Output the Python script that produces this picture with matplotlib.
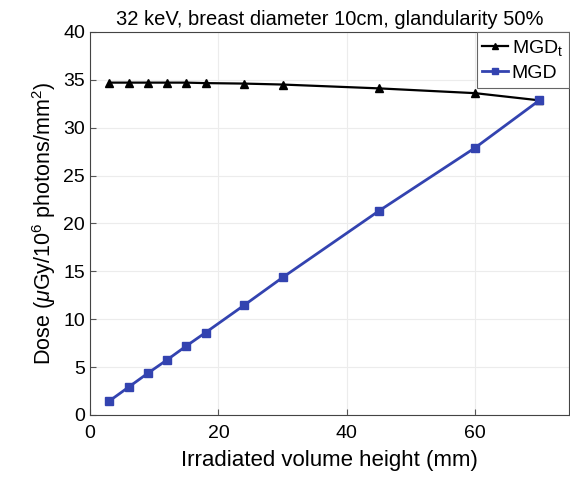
import numpy as np
import matplotlib
matplotlib.use('Agg')
import matplotlib.pyplot as plt

plt.rcParams['font.family'] = ['Liberation Sans', 'DejaVu Sans']
plt.rcParams['mathtext.fontset'] = 'custom'
plt.rcParams['mathtext.rm'] = 'Liberation Sans'
plt.rcParams['mathtext.it'] = 'Liberation Sans:italic'

# Data
height_mm = [3, 6, 9, 12, 15, 18, 24, 30, 45, 60, 70]
mgd_t = [34.7, 34.7, 34.7, 34.7, 34.7, 34.65, 34.6, 34.5, 34.1, 33.6, 32.85]
mgd = [1.45, 2.9, 4.35, 5.75, 7.2, 8.6, 11.45, 14.35, 21.3, 27.9, 32.85]

blue = '#3343b0'

fig = plt.figure(figsize=(5.7, 4.83), dpi=100)
ax = fig.add_axes([0.158, 0.141, 0.84, 0.793])

ax.plot(height_mm, mgd_t, color='black', lw=1.6, marker='^', ms=5.5,
        label=r'MGD$_\mathrm{t}$')
ax.plot(height_mm, mgd, color=blue, lw=2, marker='s', ms=5.5,
        label='MGD')

ax.set_xlim(0, 74.6)
ax.set_ylim(0, 40)
ax.set_xticks([0, 20, 40, 60])
ax.set_yticks(np.arange(0, 41, 5))
ax.grid(True, color='#ececec', lw=0.8)
ax.set_axisbelow(True)
ax.tick_params(direction='in', labelsize=14, length=4, color='#555555')
ax.tick_params(axis='x', pad=7)
for s in ax.spines.values():
    s.set_color('#444444')
    s.set_linewidth(0.8)

ax.set_xlabel('Irradiated volume height (mm)', fontsize=16, labelpad=6)
ax.set_ylabel(r'Dose ($\mu$Gy/10$^6$ photons/mm$^2$)', fontsize=15.5, labelpad=4)
ax.set_title('32 keV, breast diameter 10cm, glandularity 50%', fontsize=14.5, pad=5)

leg = ax.legend(loc='upper right', fontsize=14, handlelength=1.3,
                handletextpad=0.2, borderpad=0.3, labelspacing=0.35,
                fancybox=False, framealpha=1, borderaxespad=0,
                markerscale=0.85)
leg.get_frame().set_edgecolor('#666666')
leg.get_frame().set_linewidth(0.8)

fig.savefig('out.png', dpi=100)
